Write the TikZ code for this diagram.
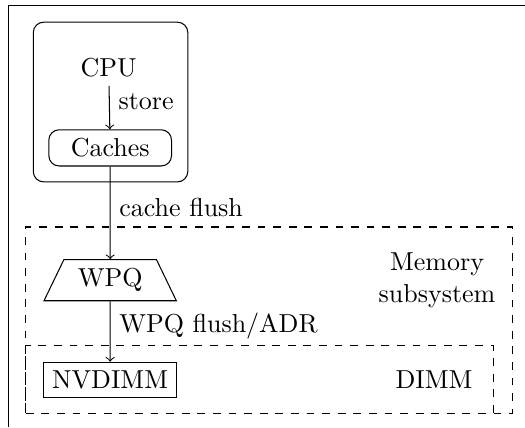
\documentclass[tikz,border=0pt]{standalone}
\usetikzlibrary{shapes.geometric,arrows}

\begin{document}
\begin{tikzpicture}[unit/.style={draw,rounded corners=4pt,minimum width=1.66cm},
  queue/.style={draw,trapezium,trapezium left angle=64,trapezium right angle=64,
    trapezium stretches body,minimum width=1.79cm,minimum height=0.555cm},
  module/.style={draw,rectangle},
  group/.style={draw,inner sep=0pt},
  region/.style={draw,dashed,inner sep=0pt},
  tag/.style={right,yshift=2.2pt}]
\useasboundingbox (0,0) rectangle (7.10,-5.78);
\coordinate (corner) at (0.12,-0.07);
\draw (7.10,-0.07) -- (corner) -- (0.12,-5.78);

% processor side
\node[group,rounded corners=4pt,minimum width=2.09cm,minimum height=2.16cm] (core) at (1.495,-1.38) {};
\node (cpu) at (1.47,-0.91) {CPU};
\node[unit] (caches) at (1.49,-2.0) {Caches};

% memory side
\node[region,minimum width=6.58cm,minimum height=2.52cm] (mem) at (3.64,-4.33) {};
\node[region,minimum width=6.32cm,minimum height=0.92cm] (dimm) at (3.51,-5.13) {};
\node[queue] (wpq) at (1.49,-3.79) {WPQ};
\node[module] (nvdimm) at (1.49,-5.14) {NVDIMM};
\node[align=center] (memlabel) at (5.91,-3.79) {Memory\\subsystem};
\node (dimmlabel) at (5.87,-5.14) {DIMM};

\path[->]
(cpu)    edge node[tag] {store}         (caches)
(caches) edge node[tag] {cache flush}   (wpq)
(wpq)    edge node[tag] {WPQ flush/ADR} (nvdimm)
;
\end{tikzpicture}
\end{document}
